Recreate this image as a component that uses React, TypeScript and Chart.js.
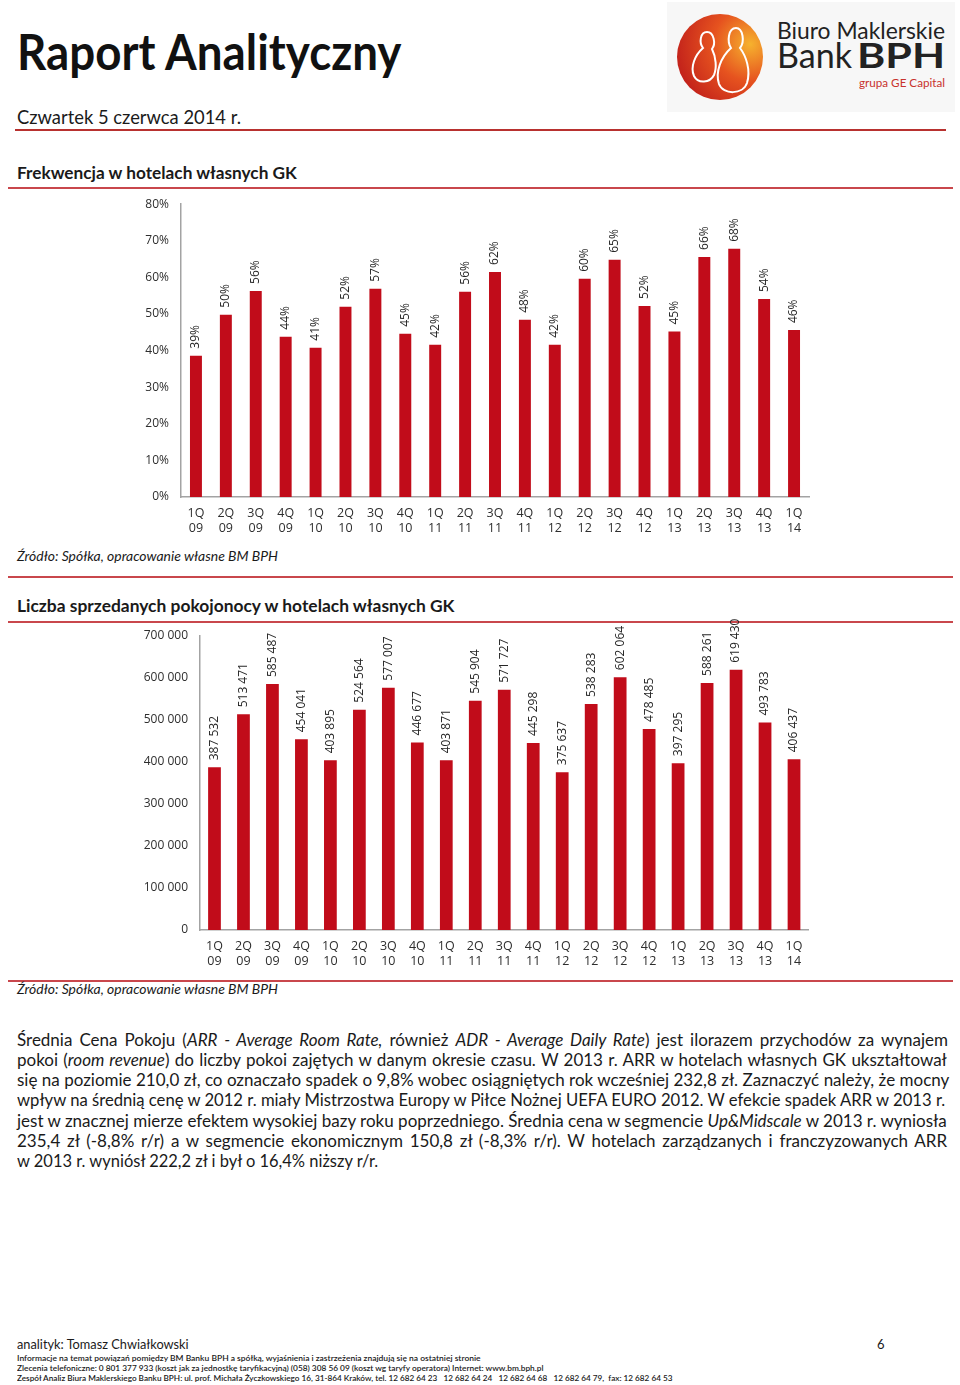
import React, { useEffect, useRef } from 'react';
import { Chart, registerables } from 'chart.js';

Chart.register(...registerables);

// ---------- DATA ----------
const quarters = ['1Q', '2Q', '3Q', '4Q', '1Q', '2Q', '3Q', '4Q', '1Q', '2Q', '3Q', '4Q', '1Q', '2Q', '3Q', '4Q', '1Q', '2Q', '3Q', '4Q', '1Q'];
const years = ['09', '09', '09', '09', '10', '10', '10', '10', '11', '11', '11', '11', '12', '12', '12', '12', '13', '13', '13', '13', '14'];
const occupancy = [38.6, 49.8, 56.3, 43.8, 40.8, 52.0, 56.9, 44.6, 41.6, 56.1, 61.5, 48.4, 41.6, 59.6, 64.8, 52.2, 45.2, 65.6, 67.8, 54.1, 45.6];
const roomNights = [387532, 513471, 585487, 454041, 403895, 524564, 577007, 446677, 403871, 545904, 571727, 445298, 375637, 538283, 602064, 478485, 397295, 588261, 619430, 493783, 406437];
const occupancyTicks = { min: 0, max: 80, step: 10 };
const roomNightTicks = { min: 0, max: 700000, step: 100000 };

const BAR = '#C10C1A';
const LINE = '#c9474c';
const CHART_FONT = '"Open Sans"';
const TEXT_FONT = 'Lato';

const fmtThousands = (v: number) => String(Math.round(v)).replace(/\B(?=(\d{3})+(?!\d))/g, ' ');
const fmtPct = (v: number) => Math.round(v) + '%';

// ---------- text helpers ----------
let mctx: CanvasRenderingContext2D | null = null;
function measure(font: string, text: string) {
  if (!mctx) mctx = document.createElement('canvas').getContext('2d');
  mctx!.font = font;
  return mctx!.measureText(text).width;
}

type TxtProps = {
  x: number; base: number; size: number; w?: number; weight?: number; italic?: boolean;
  color?: string; family?: string; children: string;
};
function Txt({ x, base, size, w, weight = 400, italic = false, color = '#1a1a1a', family = TEXT_FONT, children }: TxtProps) {
  const font = `${italic ? 'italic ' : ''}${weight} ${size}px ${family}`;
  const nat = measure(font, children);
  const sx = w ? w / nat : 1;
  return (
    <div style={{
      position: 'absolute', left: x, top: base - 0.888 * size, fontFamily: family, fontSize: size,
      fontWeight: weight, fontStyle: italic ? 'italic' : 'normal', lineHeight: `${size}px`, whiteSpace: 'pre',
      color, transform: `scaleX(${sx})`, transformOrigin: '0 0',
    }}>{children}</div>
  );
}

type Seg = [string, boolean];
function ParaLine({ x, base, size, w, segs }: { x: number; base: number; size: number; w: number; segs: Seg[] }) {
  let nat = 0;
  let spaces = 0;
  segs.forEach(([t, it]) => {
    nat += measure(`${it ? 'italic ' : ''}400 ${size}px ${TEXT_FONT}`, t);
    spaces += (t.match(/ /g) || []).length;
  });
  let ws = 0;
  let sx = 1;
  if (nat < w) ws = (w - nat) / spaces; else sx = w / nat;
  return (
    <div style={{
      position: 'absolute', left: x, top: base - 0.888 * size, fontFamily: TEXT_FONT, fontSize: size,
      lineHeight: `${size}px`, whiteSpace: 'pre', color: '#1a1a1a', wordSpacing: `${ws}px`,
      transform: `scaleX(${sx})`, transformOrigin: '0 0',
    }}>
      {segs.map(([t, it], i) => <span key={i} style={{ fontStyle: it ? 'italic' : 'normal' }}>{t}</span>)}
    </div>
  );
}

function Rule({ x1, x2, y, h = 2, color = LINE }: { x1: number; x2: number; y: number; h?: number; color?: string }) {
  return <div style={{ position: 'absolute', left: x1, top: y - h / 2, width: x2 - x1, height: h, background: color }} />;
}

// ---------- chart ----------
function makeLabelPlugin(fmt: (v: number) => string, offset: number) {
  return {
    id: 'barValueLabels',
    afterDatasetsDraw(chart: any) {
      const ctx = chart.ctx;
      const meta = chart.getDatasetMeta(0);
      const data = chart.data.datasets[0].data as number[];
      ctx.save();
      ctx.font = `12px ${CHART_FONT}`;
      ctx.fillStyle = '#262626';
      ctx.textAlign = 'left';
      ctx.textBaseline = 'middle';
      meta.data.forEach((el: any, i: number) => {
        ctx.save();
        ctx.translate(el.x, el.y - offset);
        ctx.rotate(-Math.PI / 2);
        ctx.fillText(fmt(data[i]), 0, 0);
        ctx.restore();
      });
      ctx.restore();
    },
  };
}

type BarProps = {
  left: number; top: number; width: number; height: number; values: number[];
  fmtLabel: (v: number) => string; fmtTick: (v: number) => string;
  ticks: { min: number; max: number; step: number };
  yAxisWidth: number; padTop: number; padRight: number; xAxisHeight: number; barPct: number;
};
function BarChart(p: BarProps) {
  const ref = useRef<HTMLCanvasElement>(null);
  useEffect(() => {
    const chart = new Chart(ref.current!, {
      type: 'bar',
      data: {
        labels: quarters.map((q, i) => [q, years[i]]),
        datasets: [{ data: p.values, backgroundColor: BAR, borderWidth: 0, barPercentage: p.barPct, categoryPercentage: 1 }],
      },
      options: {
        responsive: false,
        animation: false,
        devicePixelRatio: 1,
        layout: { padding: { top: p.padTop, right: p.padRight, left: 0, bottom: 0 } },
        plugins: { legend: { display: false }, tooltip: { enabled: false } },
        scales: {
          x: {
            grid: { display: false, drawTicks: false },
            border: { display: true, color: '#a3a3a3', width: 1.5 },
            ticks: { font: { family: CHART_FONT, size: 12.5, lineHeight: 1.2 }, color: '#2e2e2e', padding: 9, maxRotation: 0, autoSkip: false },
            afterFit: (s: any) => { s.height = p.xAxisHeight; },
          },
          y: {
            min: p.ticks.min, max: p.ticks.max,
            grid: { display: false, drawTicks: false },
            border: { display: true, color: '#a3a3a3', width: 1.5 },
            ticks: { stepSize: p.ticks.step, callback: (v: any) => p.fmtTick(Number(v)), font: { family: CHART_FONT, size: 12 }, color: '#2e2e2e', padding: 12 },
            afterFit: (s: any) => { s.width = p.yAxisWidth; },
          },
        },
      } as any,
      plugins: [makeLabelPlugin(p.fmtLabel, 7)],
    });
    return () => chart.destroy();
  }, []);
  return <canvas ref={ref} width={p.width} height={p.height} style={{ position: 'absolute', left: p.left, top: p.top, width: p.width, height: p.height }} />;
}

function Logo() {
  return (
    <div style={{ position: 'absolute', left: 667, top: 2, width: 288, height: 110, background: '#f7f7f7' }}>
      <svg width={288} height={110} style={{ position: 'absolute', left: 0, top: 0 }}>
        <defs>
          <radialGradient id="lg" cx="0.85" cy="0.35" r="0.95">
            <stop offset="0" stopColor="#f6b22e" />
            <stop offset="0.45" stopColor="#e6531f" />
            <stop offset="1" stopColor="#bd1a1a" />
          </radialGradient>
        </defs>
        <circle cx={53} cy={55} r={43} fill="url(#lg)" />
        <path d="M 40 30 C 33 30 32 41 36 46 C 28 53 23 65 27 74 C 31 82 43 81 47 73 C 50 66 49 55 45 47 C 49 42 47 30 40 30 Z" fill="none" stroke="#fff" strokeWidth={2} />
        <path d="M 69 26 C 61 26 60 40 64 46 C 54 55 48 70 52 82 C 56 93 76 93 80 81 C 84 68 79 54 73 46 C 78 40 76 26 69 26 Z" fill="none" stroke="#fff" strokeWidth={2} />
      </svg>
    </div>
  );
}

const para: Seg[][] = [
  [['Średnia Cena Pokoju (', false], ['ARR - Average Room Rate,', true], [' również ', false], ['ADR - Average Daily Rate', true], [') jest ilorazem przychodów za wynajem', false]],
  [['pokoi (', false], ['room revenue', true], [') do liczby pokoi zajętych w danym okresie czasu. W 2013 r. ARR w hotelach własnych GK ukształtował', false]],
  [['się na poziomie 210,0 zł, co oznaczało spadek o 9,8% wobec osiągniętych rok wcześniej 232,8 zł. Zaznaczyć należy, że mocny', false]],
  [['wpływ na średnią cenę w 2012 r. miały Mistrzostwa Europy w Piłce Nożnej UEFA EURO 2012. W efekcie spadek ARR w 2013 r.', false]],
  [['jest w znacznej mierze efektem wysokiej bazy roku poprzedniego. Średnia cena w segmencie ', false], ['Up&Midscale', true], [' w 2013 r. wyniosła', false]],
  [['235,4 zł (-8,8% r/r) a w segmencie ekonomicznym 150,8 zł (-8,3% r/r). W hotelach zarządzanych i franczyzowanych ARR', false]],
];
const paraBases = [1046, 1066, 1086, 1106, 1127, 1147];

export default function App() {
  return (
    <div style={{ position: 'absolute', left: 0, top: 0, width: 960, height: 1385, background: '#fff', overflow: 'hidden' }}>
      <Txt x={17} base={70} size={50} w={386} weight={700} color="#111">Raport Analityczny</Txt>
      <Logo />
      <Txt x={777} base={39} size={23} w={168} color="#222">Biuro Maklerskie</Txt>
      <Txt x={777} base={68} size={35} w={75} color="#222">Bank</Txt>
      <Txt x={857} base={68} size={35} w={88} weight={700} color="#222">BPH</Txt>
      <Txt x={859} base={88} size={12} w={86} color="#c8322d">grupa GE Capital</Txt>
      <Txt x={17} base={124} size={20} w={224} color="#1a1a1a">Czwartek 5 czerwca 2014 r.</Txt>
      <Rule x1={15} x2={946} y={130} h={2} color="#b8312f" />

      <Txt x={17} base={179} size={17} w={281} weight={700}>Frekwencja w hotelach własnych GK</Txt>
      <Rule x1={8} x2={953} y={188} h={1.5} />
      <BarChart left={130} top={185} width={690} height={355} values={occupancy} fmtLabel={fmtPct} fmtTick={(v) => v + '%'}
        ticks={occupancyTicks} yAxisWidth={51} padTop={13} padRight={11} xAxisHeight={43} barPct={0.4} />
      <Rule x1={8} x2={953} y={577} h={1.5} />
      <Txt x={17} base={562} size={13.5} w={261} italic>Źródło: Spółka, opracowanie własne BM BPH</Txt>

      <Txt x={17} base={612} size={17} w={439} weight={700}>Liczba sprzedanych pokojonocy w hotelach własnych GK</Txt>
      <Rule x1={8} x2={953} y={622} h={1.5} />
      <BarChart left={130} top={608} width={690} height={367} values={roomNights} fmtLabel={fmtThousands} fmtTick={fmtThousands}
        ticks={roomNightTicks} yAxisWidth={70} padTop={28} padRight={11.5} xAxisHeight={45} barPct={0.44} />
      <Rule x1={8} x2={953} y={981} h={1.5} />
      <Txt x={17} base={995} size={13.5} w={261} italic>Źródło: Spółka, opracowanie własne BM BPH</Txt>

      {para.map((segs, i) => <ParaLine key={i} x={17} base={paraBases[i]} size={17} w={933} segs={segs} />)}
      <Txt x={17} base={1167} size={17} w={364}>w 2013 r. wyniósł 222,2 zł i był o 16,4% niższy r/r.</Txt>

      <Txt x={17} base={1350} size={13} w={172}>analityk: Tomasz Chwiałkowski</Txt>
      <Txt x={877} base={1350} size={13}>6</Txt>
      <Txt x={17} base={1361} size={8} w={464} weight={600}>Informacje na temat powiązań pomiędzy BM Banku BPH a spółką, wyjaśnienia i zastrzeżenia znajdują się na ostatniej stronie</Txt>
      <Txt x={17} base={1371} size={8} w={527} weight={600}>Zlecenia telefoniczne: 0 801 377 933 (koszt jak za jednostkę taryfikacyjną) (058) 308 56 09 (koszt wg taryfy operatora) Internet: www.bm.bph.pl</Txt>
      <Txt x={17} base={1381} size={8} w={656} weight={600}>{'Zespół Analiz Biura Maklerskiego Banku BPH: ul. prof. Michała Życzkowskiego 16, 31-864 Kraków, tel. 12 682 64 23   12 682 64 24   12 682 64 68   12 682 64 79,  fax: 12 682 64 53'}</Txt>
    </div>
  );
}
